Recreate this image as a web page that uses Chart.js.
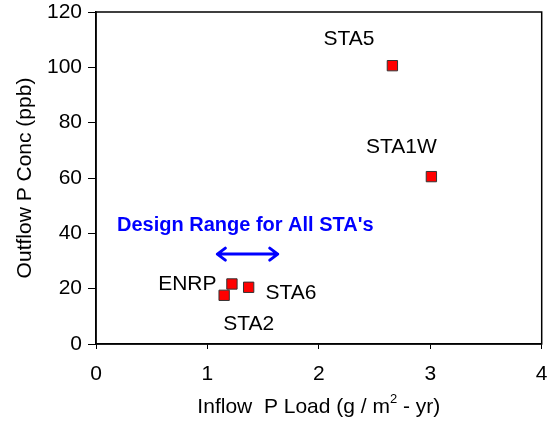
<!DOCTYPE html>
<html>
<head>
<meta charset="utf-8">
<script src="https://cdn.jsdelivr.net/npm/chart.js@4.4.1/dist/chart.umd.min.js"></script>
<style>
  html, body { margin: 0; padding: 0; background: #fff; }
  #wrap { width: 550px; height: 424px; }
</style>
</head>
<body>
<div id="wrap"><canvas id="chart"></canvas></div>
<script>
// stations and their values
const stations = ['STA5', 'STA1W', 'ENRP', 'STA6', 'STA2'];
const inflowLoad = [2.66, 3.01, 1.22, 1.37, 1.15];
const outflowConc = [100.6, 60.5, 21.7, 20.5, 17.6];

// where each station's name is written (data units)
const labelX = [2.27, 2.74, 0.82, 1.75, 1.37];
const labelY = [110.2, 71.3, 21.6, 18.5, 7.2];

// design range arrow
const designRange = [1.08, 1.64];
const designY = 32.5;
const designText = "Design Range for All STA's";
const designTextPos = [1.34, 43];

const xTicks = [0, 1, 2, 3, 4];
const yTicks = [0, 20, 40, 60, 80, 100, 120];

const FONT = "'Liberation Sans', Arial, sans-serif";

const annotations = {
  id: 'annotations',
  afterDatasetsDraw(chart) {
    const { ctx, chartArea, scales: { x, y } } = chart;
    ctx.save();

    // frame around plot area
    ctx.strokeStyle = '#000';
    ctx.lineWidth = 1.5;
    ctx.strokeRect(chartArea.left, chartArea.top,
      chartArea.right - chartArea.left, chartArea.bottom - chartArea.top);

    // station labels
    ctx.fillStyle = '#000';
    ctx.font = '21px ' + FONT;
    ctx.textAlign = 'center';
    ctx.textBaseline = 'middle';
    stations.forEach((s, i) => {
      ctx.fillText(s, x.getPixelForValue(labelX[i]), y.getPixelForValue(labelY[i]));
    });

    // design range text
    ctx.fillStyle = '#0000ff';
    ctx.font = 'bold 20px ' + FONT;
    ctx.fillText(designText, x.getPixelForValue(designTextPos[0]), y.getPixelForValue(designTextPos[1]));

    // double arrow
    const x1 = x.getPixelForValue(designRange[0]);
    const x2 = x.getPixelForValue(designRange[1]);
    const ya = y.getPixelForValue(designY);
    ctx.strokeStyle = '#0000ff';
    ctx.lineWidth = 3;
    ctx.lineCap = 'round';
    ctx.lineJoin = 'round';
    ctx.beginPath();
    ctx.moveTo(x1 + 1, ya);
    ctx.lineTo(x2 - 1, ya);
    ctx.moveTo(x1 + 9, ya - 6);
    ctx.lineTo(x1 + 1, ya);
    ctx.lineTo(x1 + 9, ya + 6);
    ctx.moveTo(x2 - 9, ya - 6);
    ctx.lineTo(x2 - 1, ya);
    ctx.lineTo(x2 - 9, ya + 6);
    ctx.stroke();

    // axis titles
    ctx.fillStyle = '#000';
    ctx.font = '21px ' + FONT;
    ctx.textBaseline = 'middle';
    const cx = (chartArea.left + chartArea.right) / 2;
    const base = 'Inflow  P Load (g / m';
    const tail = ' - yr)';
    const wBase = ctx.measureText(base).width;
    ctx.font = '13px ' + FONT;
    const wSup = ctx.measureText('2').width;
    ctx.font = '21px ' + FONT;
    const wTail = ctx.measureText(tail).width;
    let tx = cx - (wBase + wSup + wTail) / 2;
    const ty = chartArea.bottom + 63;
    ctx.textAlign = 'left';
    ctx.fillText(base, tx, ty);
    ctx.font = '13px ' + FONT;
    ctx.fillText('2', tx + wBase, ty - 8);
    ctx.font = '21px ' + FONT;
    ctx.fillText(tail, tx + wBase + wSup, ty);

    ctx.translate(25, (chartArea.top + chartArea.bottom) / 2);
    ctx.rotate(-Math.PI / 2);
    ctx.textAlign = 'center';
    ctx.fillText('Outflow P Conc (ppb)', 0, 0);

    ctx.restore();
  }
};

new Chart(document.getElementById('chart'), {
  type: 'scatter',
  data: {
    datasets: [{
      data: inflowLoad.map((v, i) => ({ x: v, y: outflowConc[i] })),
      pointStyle: 'rect',
      pointRadius: 7.3,
      pointHoverRadius: 7.3,
      backgroundColor: '#ff0000',
      borderColor: '#333333',
      borderWidth: 1
    }]
  },
  options: {
    responsive: true,
    maintainAspectRatio: false,
    animation: false,
    layout: { padding: { top: 12, right: 8, left: 0, bottom: 0 } },
    plugins: {
      legend: { display: false },
      tooltip: { enabled: false }
    },
    scales: {
      x: {
        type: 'linear',
        min: 0,
        max: 4,
        afterBuildTicks: s => { s.ticks = xTicks.map(v => ({ value: v })); },
        afterFit: s => { s.height = 80; s.paddingLeft = 0; s.paddingRight = 0; },
        grid: { drawOnChartArea: false, drawTicks: true, tickLength: 5, color: '#000' },
        border: { display: true, color: '#000', width: 1.5 },
        ticks: { color: '#000', padding: 13, font: { family: FONT, size: 21 } }
      },
      y: {
        type: 'linear',
        min: 0,
        max: 120,
        afterBuildTicks: s => { s.ticks = yTicks.map(v => ({ value: v })); },
        afterFit: s => { s.width = 96; s.paddingTop = 0; s.paddingBottom = 0; },
        grid: { drawOnChartArea: false, drawTicks: true, tickLength: 8, color: '#000' },
        border: { display: true, color: '#000', width: 1.5 },
        ticks: { color: '#000', padding: 6, font: { family: FONT, size: 21 } }
      }
    }
  },
  plugins: [annotations]
});
</script>
</body>
</html>
